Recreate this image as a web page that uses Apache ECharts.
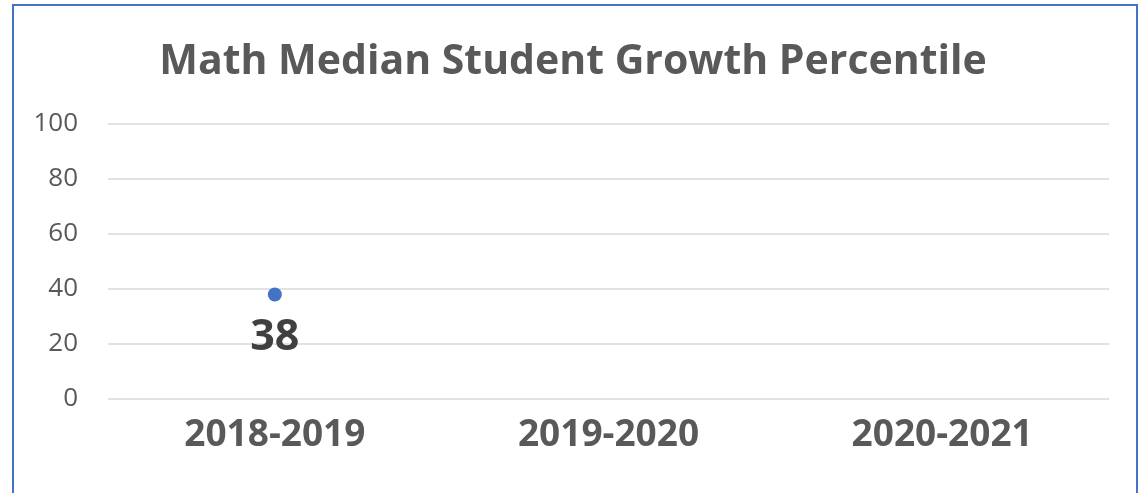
<!DOCTYPE html>
<html><head><meta charset="utf-8">
<script src="https://cdn.jsdelivr.net/npm/echarts@6/dist/echarts.min.js"></script>
<style>
html,body{margin:0;padding:0;background:#fff;overflow:hidden;}
#frame{position:absolute;left:12px;top:4px;width:1122px;height:600px;border:2px solid #4472C4;box-sizing:content-box;}
#c{position:absolute;left:0;top:0;width:1146px;height:493px;}
</style></head><body>
<div id="frame"></div>
<div id="c"></div>
<script>
const categories = ['2018-2019', '2019-2020', '2020-2021'];
const values = [38, null, null];
const chart = echarts.init(document.getElementById('c'));
chart.setOption({
  animation: false,
  title: {
    text: 'Math Median Student Growth Percentile',
    left: 'center', top: 37,
    textStyle: {fontFamily: 'Open Sans', fontWeight: 'bold', fontSize: 41, color: '#595959'}
  },
  grid: {left: 108, right: 37, top: 124, bottom: 94},
  xAxis: {
    type: 'category', data: categories,
    axisLine: {show: false}, axisTick: {show: false},
    axisLabel: {fontFamily: 'Open Sans', fontWeight: 'bold', fontSize: 37, color: '#595959', margin: 18}
  },
  yAxis: {
    type: 'value', min: 0, max: 100, interval: 20,
    axisLine: {show: false}, axisTick: {show: false},
    splitLine: {lineStyle: {color: '#d9d9d9', width: 1.5}},
    axisLabel: {fontFamily: 'Open Sans', fontSize: 26, color: '#595959', margin: 30}
  },
  series: [{
    type: 'line', data: values,
    symbol: 'circle', symbolSize: 14,
    itemStyle: {color: '#4472C4'},
    lineStyle: {color: '#4472C4', width: 2},
    label: {show: true, position: 'bottom', distance: 15,
      fontFamily: 'Open Sans', fontWeight: 'bold', fontSize: 43, color: '#404040'}
  }]
});
</script>
</body></html>
